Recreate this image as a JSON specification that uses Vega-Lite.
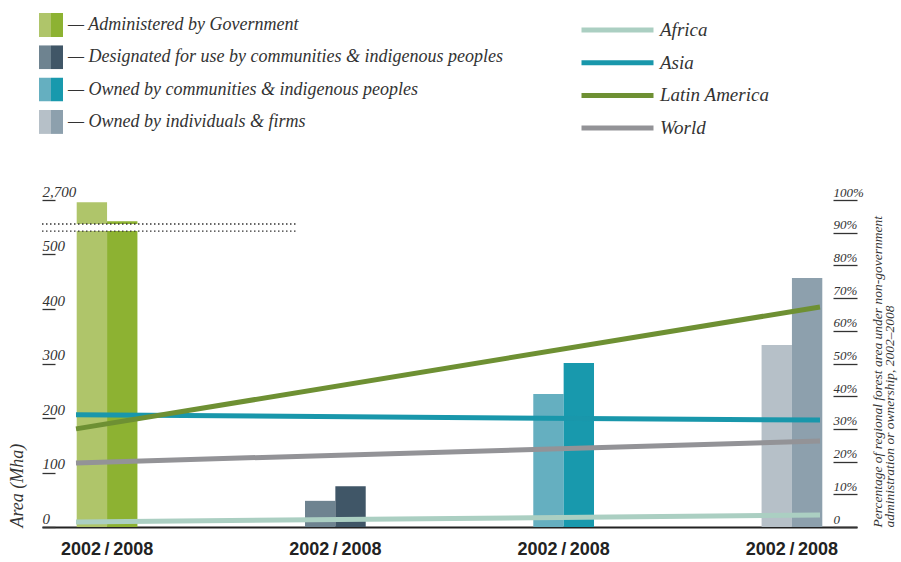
{
  "$schema": "https://vega.github.io/schema/vega-lite/v6.json",
  "width": 815,
  "height": 327,
  "autosize": {"type": "none"},
  "padding": {"left": 42, "top": 200, "right": 44, "bottom": 35},
  "background": "white",
  "config": {"view": {"stroke": null}, "font": "Liberation Serif"},
  "datasets": {
    "bars": [
      {"cat": "Administered by Government", "code": "G", "year": "2002", "mha": 596},
      {"cat": "Administered by Government", "code": "G", "year": "2008", "mha": 561},
      {"cat": "Designated for use by communities & indigenous peoples", "code": "D", "year": "2002", "mha": 48},
      {"cat": "Designated for use by communities & indigenous peoples", "code": "D", "year": "2008", "mha": 75},
      {"cat": "Owned by communities & indigenous peoples", "code": "C", "year": "2002", "mha": 244},
      {"cat": "Owned by communities & indigenous peoples", "code": "C", "year": "2008", "mha": 301},
      {"cat": "Owned by individuals & firms", "code": "I", "year": "2002", "mha": 334},
      {"cat": "Owned by individuals & firms", "code": "I", "year": "2008", "mha": 457}
    ],
    "lines": [
      {"region": "Africa", "year": 2002, "pct": 1.5},
      {"region": "Africa", "year": 2008, "pct": 3.7},
      {"region": "Asia", "year": 2002, "pct": 34.3},
      {"region": "Asia", "year": 2008, "pct": 32.7},
      {"region": "Latin America", "year": 2002, "pct": 30.0},
      {"region": "Latin America", "year": 2008, "pct": 67.3},
      {"region": "World", "year": 2002, "pct": 19.6},
      {"region": "World", "year": 2008, "pct": 26.3}
    ],
    "brk": [{"x0": 0, "x1": 0.313, "lo": 543, "hi": 556}]
  },
  "layer": [
    {
      "data": {"name": "bars"},
      "encoding": {
        "x": {
          "field": "cat", "type": "nominal",
          "scale": {"domain": ["Administered by Government", "Designated for use by communities & indigenous peoples", "Owned by communities & indigenous peoples", "Owned by individuals & firms"], "paddingInner": 0.734, "paddingOuter": 0.152},
          "axis": {
            "orient": "bottom", "title": null, "labelExpr": "'2002\u2009/\u20092008'", "labelAngle": 0,
            "domainColor": "#222", "domainWidth": 2, "ticks": false, "tickSize": 0,
            "labelPadding": 13, "labelFont": "Liberation Sans",
            "labelFontWeight": "bold", "labelFontSize": 18, "labelColor": "#222"
          }
        },
        "xOffset": {"field": "year", "type": "nominal", "scale": {"domain": ["2002", "2008"]}},
        "y": {
          "field": "mha", "type": "quantitative",
          "scale": {"domain": [0, 600], "nice": false},
          "axis": {
            "orient": "left", "values": [0, 100, 200, 300, 400, 500, 600],
            "labelExpr": "datum.value == 600 ? '2,700' : datum.label",
            "domain": false, "grid": false, "tickSize": -13, "tickColor": "#333", "tickWidth": 1.3,
            "labelAlign": "left", "labelBaseline": "alphabetic", "labelPadding": 13, "labelOffset": -4,
            "labelFlush": false, "labelOverlap": false,
            "labelFont": "Liberation Serif", "labelFontStyle": "italic", "labelFontSize": 15, "labelColor": "#333",
            "title": "Area (Mha)", "titleFont": "Liberation Serif", "titleFontStyle": "italic", "titleFontWeight": "normal",
            "titleFontSize": 18, "titleColor": "#333", "titleAngle": 270, "titleX": -25, "titleY": 327,
            "titleAlign": "left", "titleBaseline": "middle"
          }
        }
      },
      "layer": [
        {
          "transform": [{"filter": "datum.year == '2002'"}],
          "mark": {"type": "bar"},
          "encoding": {
            "color": {
              "field": "code", "type": "nominal",
              "scale": {"domain": ["G", "D", "C", "I"], "range": ["#afc56a", "#6e8390", "#65afc0", "#b6c0c8"]},
              "legend": {
                "orient": "none", "legendX": -9, "legendY": -187, "title": null, "padding": 0,
                "symbolType": "M-0.5,-1H0.5V1H-0.5Z", "symbolSize": 576, "symbolStrokeWidth": 0,
                "clipHeight": 24, "rowPadding": 8.3, "labelExpr": "''", "labelFontSize": 1
              }
            }
          }
        },
        {
          "transform": [{"filter": "datum.year == '2008'"}],
          "mark": {"type": "bar"},
          "encoding": {
            "fill": {
              "field": "cat", "type": "nominal",
              "scale": {"domain": ["Administered by Government", "Designated for use by communities & indigenous peoples", "Owned by communities & indigenous peoples", "Owned by individuals & firms"], "range": ["#8db232", "#405667", "#1899ad", "#8da0ad"]},
              "legend": {
                "orient": "none", "legendX": 3, "legendY": -187, "title": null, "padding": 0,
                "symbolType": "M-0.5,-1H0.5V1H-0.5Z", "symbolSize": 576, "symbolStrokeWidth": 0,
                "clipHeight": 24, "rowPadding": 8.3, "labelOffset": -1, "labelLimit": 0,
                "labelExpr": "'\u2014 ' + datum.label",
                "labelFont": "Liberation Serif", "labelFontStyle": "italic", "labelFontSize": 18, "labelColor": "#333"
              }
            }
          }
        }
      ]
    },
    {
      "data": {"name": "brk"},
      "encoding": {
        "x": {"field": "x0", "type": "quantitative", "scale": {"domain": [0, 1], "nice": false}, "axis": null},
        "x2": {"field": "x1"}
      },
      "layer": [
        {
          "mark": {"type": "rect", "fill": "white"},
          "encoding": {
            "y": {"field": "lo", "type": "quantitative", "scale": {"domain": [0, 600], "nice": false}, "axis": null},
            "y2": {"field": "hi"}
          }
        },
        {
          "mark": {"type": "rule", "color": "#333", "strokeDash": [1.5, 2.5], "strokeWidth": 1.3},
          "encoding": {"y": {"field": "lo", "type": "quantitative"}}
        },
        {
          "mark": {"type": "rule", "color": "#333", "strokeDash": [1.5, 2.5], "strokeWidth": 1.3},
          "encoding": {"y": {"field": "hi", "type": "quantitative"}}
        }
      ]
    },
    {
      "data": {"name": "lines"},
      "mark": {"type": "line", "strokeWidth": 5, "strokeCap": "butt"},
      "encoding": {
        "x": {"field": "year", "type": "quantitative", "scale": {"domain": [2002, 2008], "range": [34, 778]}, "axis": null},
        "y": {
          "field": "pct", "type": "quantitative",
          "scale": {"domain": [0, 100], "nice": false},
          "axis": {
            "orient": "right", "values": [0, 10, 20, 30, 40, 50, 60, 70, 80, 90, 100],
            "labelExpr": "datum.value == 0 ? '0' : datum.value + '%'",
            "domain": false, "grid": false, "tickSize": -24, "tickColor": "#333", "tickWidth": 1.3,
            "labelAlign": "left", "labelBaseline": "alphabetic", "labelPadding": 0, "labelOffset": -4,
            "labelFlush": false, "labelOverlap": false,
            "labelFont": "Liberation Serif", "labelFontStyle": "italic", "labelFontSize": 13, "labelColor": "#333",
            "title": ["Percentage of regional forest area under non-government", "administration or ownership, 2002\u20132008"],
            "titleFont": "Liberation Serif", "titleFontStyle": "italic", "titleFontWeight": "normal",
            "titleFontSize": 13.5, "titleLineHeight": 12.5, "titleColor": "#333", "titleAngle": 270,
            "titleX": 13, "titleY": 327, "titleAlign": "left", "titleBaseline": "top"
          }
        },
        "stroke": {
          "field": "region", "type": "nominal",
          "scale": {"domain": ["Africa", "Asia", "Latin America", "World"], "range": ["#abcfc2", "#1997ab", "#6e9033", "#939397"]},
          "legend": {
            "orient": "none", "legendX": 537, "legendY": -180, "title": null, "padding": 0,
            "symbolType": "stroke", "symbolSize": 5184, "symbolStrokeWidth": 5,
            "clipHeight": 20, "rowPadding": 12.7, "labelOffset": 4, "labelLimit": 0,
            "labelFont": "Liberation Serif", "labelFontStyle": "italic", "labelFontSize": 19, "labelColor": "#333"
          }
        }
      }
    }
  ],
  "resolve": {"scale": {"x": "independent", "y": "independent"}, "axis": {"x": "independent", "y": "independent"}}
}
